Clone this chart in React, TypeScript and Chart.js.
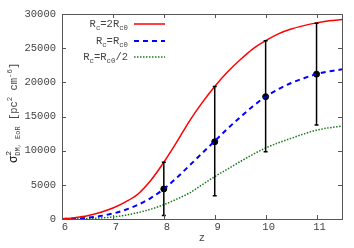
import React, { useEffect, useRef } from "react";
import { Chart, registerables } from "chart.js";

Chart.register(...registerables);

const zGrid = [6, 6.25, 6.5, 6.75, 7, 7.25, 7.5, 7.75, 8, 8.25, 8.5, 8.75, 9, 9.25, 9.5, 9.75, 10, 10.25, 10.5, 10.75, 11, 11.25, 11.5];
const redSeries = [0, 200, 480, 950, 1600, 2500, 3700, 5700, 8300, 11200, 14300, 17000, 19400, 21500, 23300, 24900, 26100, 27100, 27800, 28300, 28700, 29000, 29200];
const blueSeries = [0, 70, 190, 430, 800, 1350, 2100, 3100, 4400, 6000, 7800, 9600, 11400, 13200, 14900, 16500, 17900, 19000, 19900, 20600, 21200, 21600, 21900];
const greenSeries = [0, 20, 60, 150, 300, 560, 950, 1450, 2100, 2900, 3800, 5000, 6200, 7300, 8400, 9450, 10400, 11150, 11800, 12450, 13000, 13350, 13600];

const errZ = [8, 9, 10, 11];
const errMid = [4400, 11300, 17900, 21200];
const errLo = [500, 3400, 9850, 13750];
const errHi = [8300, 19400, 26100, 28650];

const xTicks = [6, 7, 8, 9, 10, 11];
const yTicks = [0, 5000, 10000, 15000, 20000, 25000, 30000];

const FONT = "'Liberation Mono', 'DejaVu Sans Mono', monospace";
const TEXT = "#444";

type Part = { t: string; sub?: boolean; sup?: boolean };

function partFont(p: Part, base: number) {
  return `${p.sub || p.sup ? base * 0.7 : base}px ${FONT}`;
}

function measureParts(ctx: CanvasRenderingContext2D, parts: Part[], base: number) {
  let w = 0;
  for (const p of parts) {
    ctx.font = partFont(p, base);
    w += ctx.measureText(p.t).width;
  }
  return w;
}

function drawParts(ctx: CanvasRenderingContext2D, parts: Part[], x: number, y: number, base: number) {
  let cx = x;
  for (const p of parts) {
    ctx.font = partFont(p, base);
    const dy = p.sub ? base * 0.3 : p.sup ? -base * 0.45 : 0;
    ctx.fillText(p.t, cx, y + dy);
    cx += ctx.measureText(p.t).width;
  }
}

const legendItems: { parts: Part[]; color: string; dash: number[]; width: number }[] = [
  { parts: [{ t: "R" }, { t: "c", sub: true }, { t: "=2R" }, { t: "c0", sub: true }], color: "#ff0000", dash: [], width: 1.5 },
  { parts: [{ t: "R" }, { t: "c", sub: true }, { t: "=R" }, { t: "c0", sub: true }], color: "#0000ff", dash: [5, 4], width: 2 },
  { parts: [{ t: "R" }, { t: "c", sub: true }, { t: "=R" }, { t: "c0", sub: true }, { t: "/2" }], color: "#1a7a1a", dash: [1.5, 1.5], width: 1.5 },
];

const frameAndExtras = {
  id: "frameAndExtras",
  afterDatasetsDraw(chart: any) {
    const { ctx, chartArea: a, scales } = chart;
    const xs = scales.x;
    const ys = scales.y;
    ctx.save();
    // error bars
    ctx.strokeStyle = "#000";
    ctx.lineWidth = 1.5;
    for (let i = 0; i < errZ.length; i++) {
      const px = xs.getPixelForValue(errZ[i]);
      const lo = ys.getPixelForValue(errLo[i]);
      const hi = ys.getPixelForValue(errHi[i]);
      ctx.beginPath();
      ctx.moveTo(px, lo);
      ctx.lineTo(px, hi);
      ctx.moveTo(px - 2, lo);
      ctx.lineTo(px + 2, lo);
      ctx.moveTo(px - 2, hi);
      ctx.lineTo(px + 2, hi);
      ctx.stroke();
    }
    // frame
    ctx.strokeStyle = "#555";
    ctx.lineWidth = 1;
    ctx.strokeRect(Math.round(a.left) + 0.5, Math.round(a.top) + 0.5, Math.round(a.right - a.left), Math.round(a.bottom - a.top));
    // inward ticks
    ctx.beginPath();
    for (const v of xTicks) {
      const px = Math.round(xs.getPixelForValue(v)) + 0.5;
      ctx.moveTo(px, a.bottom);
      ctx.lineTo(px, a.bottom - 4);
      ctx.moveTo(px, a.top);
      ctx.lineTo(px, a.top + 4);
    }
    for (const v of yTicks) {
      const py = Math.round(ys.getPixelForValue(v)) + 0.5;
      ctx.moveTo(a.left, py);
      ctx.lineTo(a.left + 4, py);
      ctx.moveTo(a.right, py);
      ctx.lineTo(a.right - 4, py);
    }
    ctx.stroke();
    // legend
    const base = 10.5;
    const rows = [24, 41, 57];
    legendItems.forEach((it, i) => {
      const y = rows[i];
      ctx.fillStyle = TEXT;
      ctx.textBaseline = "alphabetic";
      ctx.textAlign = "left";
      const w = measureParts(ctx, it.parts, base);
      drawParts(ctx, it.parts, 128 - w, y + 3, base);
      ctx.strokeStyle = it.color;
      ctx.lineWidth = it.width;
      ctx.setLineDash(it.dash);
      ctx.beginPath();
      ctx.moveTo(134, y);
      ctx.lineTo(165, y);
      ctx.stroke();
      ctx.setLineDash([]);
    });
    // y title
    ctx.translate(17, 163);
    ctx.rotate(-Math.PI / 2);
    ctx.fillStyle = "#111";
    ctx.font = `12px ${FONT}`;
    ctx.fillText("σ", 0, 0);
    let cx = ctx.measureText("σ").width;
    ctx.font = `8px ${FONT}`;
    ctx.fillText("2", cx, -6);
    ctx.font = `7px ${FONT}`;
    ctx.fillStyle = TEXT;
    ctx.fillText("DM, EoR", cx, 3);
    cx += ctx.measureText("DM, EoR").width;
    const rest: Part[] = [
      { t: " [pc" },
      { t: "2", sup: true },
      { t: " cm" },
      { t: "-6", sup: true },
      { t: "]" },
    ];
    drawParts(ctx, rest, cx, 0, 10.5);
    ctx.restore();
    // x title
    ctx.save();
    ctx.fillStyle = TEXT;
    ctx.font = `10.5px ${FONT}`;
    ctx.textAlign = "center";
    ctx.textBaseline = "middle";
    ctx.fillText("z", (a.left + a.right) / 2, 238);
    ctx.restore();
  },
};

export default function App() {
  const ref = useRef<HTMLCanvasElement>(null);
  useEffect(() => {
    if (!ref.current) return;
    const mk = (arr: number[]) => zGrid.map((z, i) => ({ x: z, y: arr[i] }));
    const chart = new Chart(ref.current, {
      type: "line",
      data: {
        datasets: [
          {
            data: mk(redSeries),
            borderColor: "#ff0000",
            borderWidth: 1.5,
            pointRadius: 0,
            cubicInterpolationMode: "monotone",
          },
          {
            data: mk(blueSeries),
            borderColor: "#0000ff",
            borderWidth: 2,
            borderDash: [5, 4],
            pointRadius: 0,
            cubicInterpolationMode: "monotone",
          },
          {
            data: mk(greenSeries),
            borderColor: "#1a7a1a",
            borderWidth: 1.5,
            borderDash: [1.5, 1.5],
            pointRadius: 0,
            cubicInterpolationMode: "monotone",
          },
          {
            data: errZ.map((z, i) => ({ x: z, y: errMid[i] })),
            showLine: false,
            pointRadius: 3,
            pointBackgroundColor: "#000",
            pointBorderColor: "#000",
            borderColor: "#000",
          },
        ],
      },
      options: {
        animation: false,
        responsive: false,
        devicePixelRatio: 1,
        layout: { padding: { top: 14, right: 12, left: 0, bottom: 0 } },
        plugins: { legend: { display: false }, tooltip: { enabled: false } },
        scales: {
          x: {
            type: "linear",
            min: 6,
            max: 11.5,
            grid: { display: false, drawTicks: false },
            border: { display: false },
            afterBuildTicks: (s: any) => {
              s.ticks = xTicks.map((v) => ({ value: v }));
            },
            afterFit: (s: any) => {
              s.height = 29;
            },
            ticks: {
              padding: 2,
              labelOffset: 3,
              maxRotation: 0,
              color: TEXT,
              font: { family: FONT, size: 10.5 },
            },
          },
          y: {
            type: "linear",
            min: 0,
            max: 30000,
            grid: { display: false, drawTicks: false },
            border: { display: false },
            afterBuildTicks: (s: any) => {
              s.ticks = yTicks.map((v) => ({ value: v }));
            },
            afterFit: (s: any) => {
              s.width = 62;
            },
            ticks: {
              padding: 6,
              color: TEXT,
              font: { family: FONT, size: 10.5 },
              callback: (v: any) => String(v),
            },
          },
        },
      },
      plugins: [frameAndExtras],
    });
    return () => chart.destroy();
  }, []);
  return (
    <div style={{ position: "absolute", left: 0, top: 0, width: 354, height: 248, background: "#fff" }}>
      <canvas ref={ref} width={354} height={248} style={{ width: 354, height: 248 }} />
    </div>
  );
}
